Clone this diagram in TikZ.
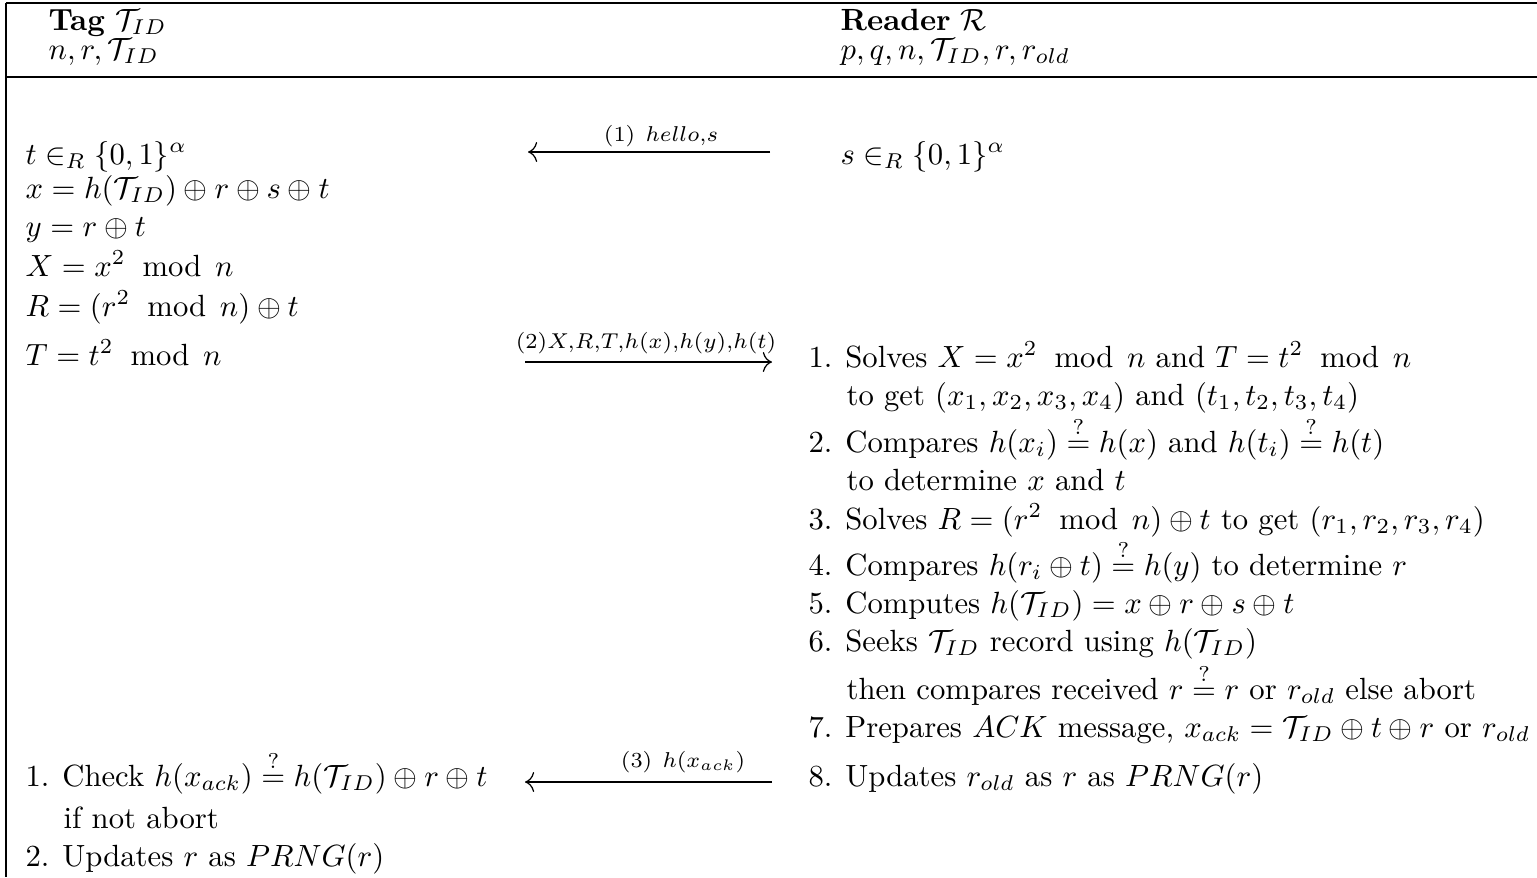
\documentclass[tikz,border=0pt]{standalone}
\usepackage{amsmath,amssymb}
\usepackage{tikz}
\usetikzlibrary{arrows.meta}
\newcommand{\itemno}[1]{\makebox[12pt][l]{#1}}
\newcommand{\md}{\mkern10mu\mathrm{mod}\mkern8mu}

\begin{document}
\begin{tikzpicture}[x=0.326pt,y=-0.326pt,
  txt/.style={anchor=base west,inner sep=0pt},
  lbl/.style={anchor=base,yshift=3.3pt,inner sep=0pt},
  msg/.style={-{Computer Modern Rightarrow[length=3pt,width=6.5pt]}}]
\useasboundingbox (0,0) rectangle (1537,877);
\draw (6,3) -- (1537,3); \draw (6,77) -- (1537,77); \draw (6,3) -- (6,877);
\node[txt] (tag) at (48,30) {\textbf{Tag} $\mathcal{T}_{ID}$};
\node[txt] (tagvars) at (48,59) {$n, r, \mathcal{T}_{ID}$};
\node[txt] (reader) at (840,30) {\textbf{Reader} $\mathcal{R}$};
\node[txt] (readervars) at (840,59) {$p, q, n, \mathcal{T}_{ID}, r, r_{old}$};
\node[txt] (tagA) at (25,164) {$t \in_R \{0,1\}^\alpha$};
\node[txt] (tagB) at (25,198) {$x = h(\mathcal{T}_{ID}) \oplus r \oplus s \oplus t$};
\node[txt] (tagC) at (25,236) {$y = r \oplus t$};
\node[txt] (tagD) at (25,276) {$X = x^2 \md n$};
\node[txt] (tagE) at (25,316) {$R = (r^2 \md n) \oplus t$};
\node[txt] (tagF) at (25,365) {$T = t^2 \md n$};
\node[txt] (tagG) at (25,786) {\itemno{1.}Check $h(x_{ack}) \stackrel{?}{=} h(\mathcal{T}_{ID}) \oplus r \oplus t$};
\node[txt] (tagH) at (63,828) {if not abort};
\node[txt] (tagI) at (25,866) {\itemno{2.}Updates $r$ as $PRNG(r)$};
\node[txt] (rdA) at (840,164) {$s \in_R \{0,1\}^\alpha$};
\node[txt] (rdB) at (808,367) {\itemno{1.}Solves $X = x^2 \md n$ and $T = t^2 \md n$};
\node[txt] (rdC) at (846,405) {to get $(x_1, x_2, x_3, x_4)$ and $(t_1, t_2, t_3, t_4)$};
\node[txt] (rdD) at (808,452) {\itemno{2.}Compares $h(x_i) \stackrel{?}{=} h(x)$ and $h(t_i) \stackrel{?}{=} h(t)$};
\node[txt] (rdE) at (846,490) {to determine $x$ and $t$};
\node[txt] (rdF) at (808,529) {\itemno{3.}Solves $R = (r^2 \md n) \oplus t$ to get $(r_1, r_2, r_3, r_4)$};
\node[txt] (rdG) at (808,575) {\itemno{4.}Compares $h(r_i \oplus t) \stackrel{?}{=} h(y)$ to determine $r$};
\node[txt] (rdH) at (808,613) {\itemno{5.}Computes $h(\mathcal{T}_{ID}) = x \oplus r \oplus s \oplus t$};
\node[txt] (rdI) at (808,651) {\itemno{6.}Seeks $\mathcal{T}_{ID}$ record using $h(\mathcal{T}_{ID})$};
\node[txt] (rdJ) at (846,699) {then compares received $r \stackrel{?}{=} r$ or $r_{old}$ else abort};
\node[txt] (rdK) at (808,737) {\itemno{7.}Prepares $ACK$ message, $x_{ack} = \mathcal{T}_{ID} \oplus t \oplus r$ or $r_{old}$};
\node[txt] (rdL) at (808,786) {\itemno{8.}Updates $r_{old}$ as $r$ as $PRNG(r)$};
\coordinate (t1) at (528,152); \coordinate (r1) at (770,152);
\coordinate (t2) at (525,362); \coordinate (r2) at (772,362);
\coordinate (t3) at (525,782); \coordinate (r3) at (772,782);
\draw[msg] (r1) -- node[lbl,pos=.45]{$\scriptstyle (1)\ hello,s$} (t1);
\draw[msg] (t2) -- node[lbl,pos=.49,yshift=1pt]{$\scriptstyle (2)X,R,T,h(x),h(y),h(t)$} (r2);
\draw[msg] (r3) -- node[lbl,pos=.36,yshift=1.5pt]{$\scriptstyle (3)\ h(x_{ack})$} (t3);
\end{tikzpicture}
\end{document}
